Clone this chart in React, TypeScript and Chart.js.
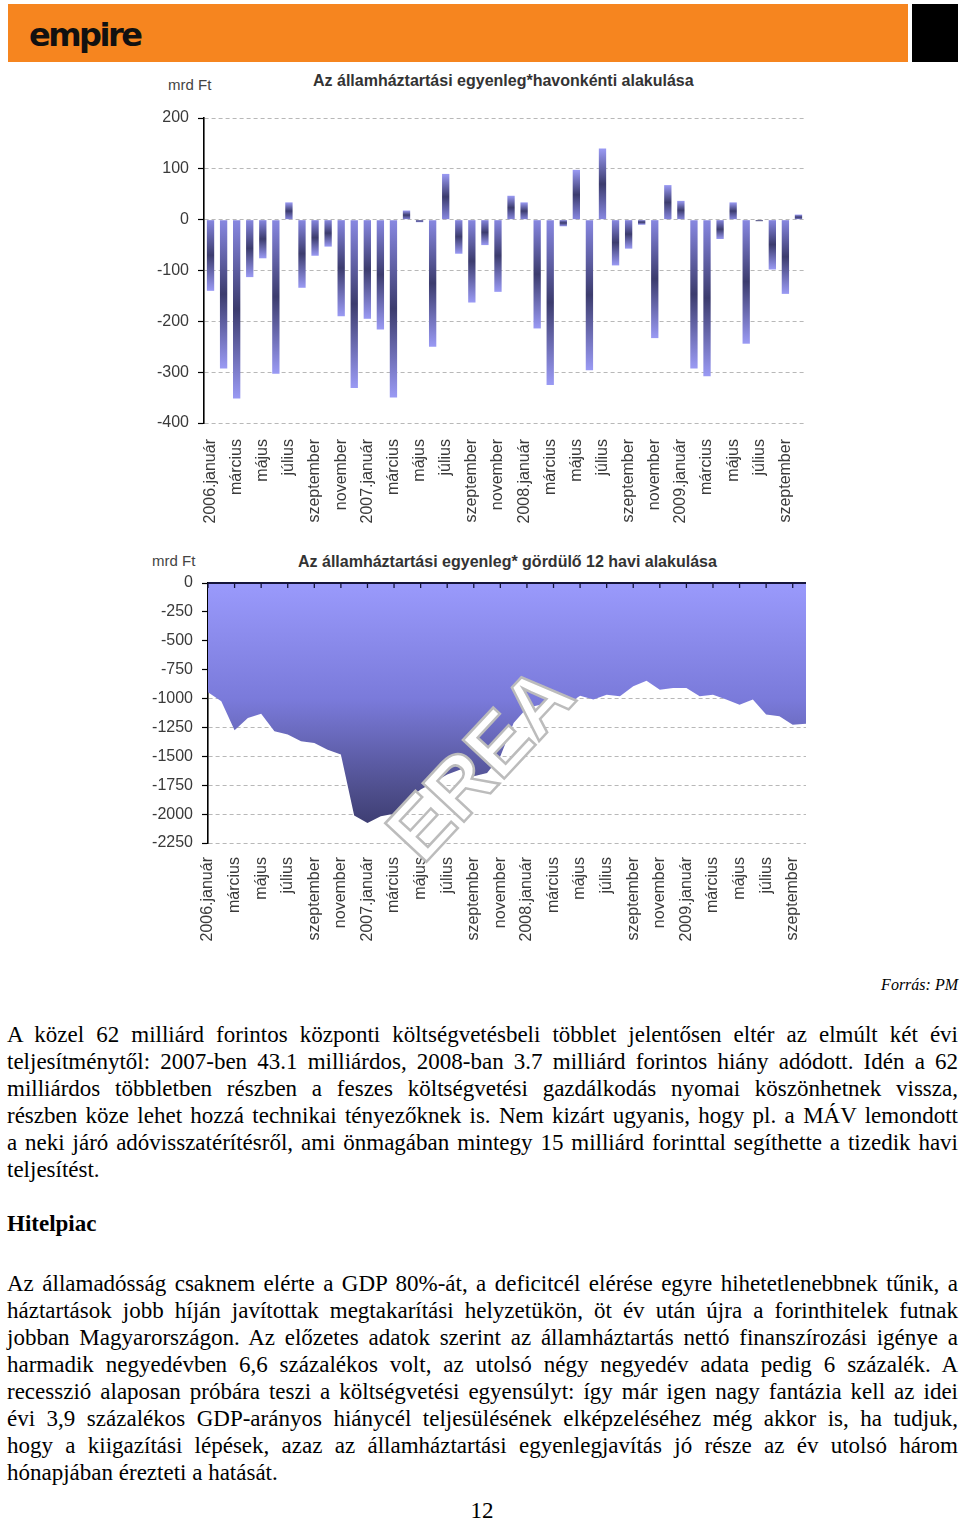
import React, { useEffect, useRef } from 'react';
import { Chart, registerables } from 'chart.js';

Chart.register(...registerables);

const monthNames = ['január', 'február', 'március', 'április', 'május', 'június', 'július', 'augusztus', 'szeptember', 'október', 'november', 'december'];
const years = [2006, 2007, 2008, 2009];
const monthCount = 46;
const categories: string[] = Array.from({ length: monthCount }, (_, i) => {
  const m = i % 12;
  const y = years[Math.floor(i / 12)];
  return m === 0 ? `${y}.${monthNames[m]}` : monthNames[m];
});

const monthlyBalance = [
  -140, -293, -352, -113, -76, -303, 34, -134, -71, -53, -190, -331,
  -195, -216, -350, 18, -5, -250, 90, -67, -163, -50, -142, 47,
  34, -214, -325, -13, 98, -296, 140, -90, -57, -10, -233, 68,
  37, -293, -308, -38, 34, -244, -3, -98, -146, 10,
];

const rollingBalance = [
  -946, -1024, -1275, -1168, -1131, -1283, -1312, -1370, -1384, -1442, -1485, -2013,
  -2077, -2019, -1996, -1875, -1788, -1725, -1658, -1615, -1673, -1644, -1500, -1211,
  -1081, -1053, -1038, -1053, -975, -1009, -966, -980, -894, -845, -923, -908,
  -908, -980, -966, -1009, -1053, -1009, -1139, -1154, -1226, -1218,
];

const barAxis = { min: -400, max: 200, step: 100 };
const areaAxis = { min: -2250, max: 0, step: 250 };

const chartFont = 'Arial, "Liberation Sans", sans-serif';
const serif = '"Liberation Serif", "Times New Roman", serif';

const para1 = [
  'A közel 62 milliárd forintos központi költségvetésbeli többlet jelentősen eltér az elmúlt két évi',
  'teljesítménytől: 2007-ben 43.1 milliárdos, 2008-ban 3.7 milliárd forintos hiány adódott. Idén a 62',
  'milliárdos többletben részben a feszes költségvetési gazdálkodás nyomai köszönhetnek vissza,',
  'részben köze lehet hozzá technikai tényezőknek is. Nem kizárt ugyanis, hogy pl. a MÁV lemondott',
  'a neki járó adóvisszatérítésről, ami önmagában mintegy 15 milliárd forinttal segíthette a tizedik havi',
  'teljesítést.',
];
const para2 = [
  'Az államadósság csaknem elérte a GDP 80%-át, a deficitcél elérése egyre hihetetlenebbnek tűnik, a',
  'háztartások jobb híján javítottak megtakarítási helyzetükön, öt év után újra a forinthitelek futnak',
  'jobban Magyarországon. Az előzetes adatok szerint az államháztartás nettó finanszírozási igénye a',
  'harmadik negyedévben 6,6 százalékos volt, az utolsó négy negyedév adata pedig 6 százalék. A',
  'recesszió alaposan próbára teszi a költségvetési egyensúlyt: így már igen nagy fantázia kell az idei',
  'évi 3,9 százalékos GDP-arányos hiánycél teljesülésének elképzeléséhez még akkor is, ha tudjuk,',
  'hogy a kiigazítási lépések, azaz az államháztartási egyenlegjavítás jó része az év utolsó három',
  'hónapjában érezteti a hatását.',
];

const xTickOpts = (padding: number) => ({
  autoSkip: false,
  maxRotation: 90,
  minRotation: 90,
  padding,
  color: '#3a3a3a',
  font: { family: chartFont, size: 16 },
  callback: (_v: any, i: number) => (i % 2 === 0 ? categories[i] : ''),
});

const xAxisBase = (padding: number) => ({
  offset: true,
  grid: { display: false, drawTicks: false },
  border: { display: false },
  ticks: xTickOpts(padding),
  afterFit: (s: any) => {
    s.height = 117;
    s.paddingLeft = 0;
    s.paddingRight = 0;
  },
});

const yAxisBase = (cfg: { min: number; max: number; step: number }, width: number) => ({
  min: cfg.min,
  max: cfg.max,
  ticks: {
    stepSize: cfg.step,
    padding: 9,
    color: '#3a3a3a',
    font: { family: chartFont, size: 16 },
    callback: (v: any) => String(v),
  },
  grid: { color: '#b8b8b8', lineWidth: 1, tickColor: '#000', tickLength: 6, tickBorderDash: [], tickWidth: 1.2 },
  border: { display: true, color: '#000', width: 1.6, dash: [4, 3] },
  afterFit: (s: any) => {
    s.width = width;
    s.paddingTop = 0;
    s.paddingBottom = 0;
  },
});

const topAxisPlugin = {
  id: 'topAxis',
  afterDatasetsDraw(chart: any) {
    const { ctx, chartArea: ca, scales } = chart;
    ctx.save();
    ctx.strokeStyle = '#15153c';
    ctx.lineWidth = 1.8;
    ctx.beginPath();
    ctx.moveTo(ca.left, ca.top);
    ctx.lineTo(ca.right, ca.top);
    ctx.stroke();
    ctx.lineWidth = 1.3;
    for (let i = 0; i < categories.length; i += 2) {
      const x = scales.x.getPixelForValue(i);
      ctx.beginPath();
      ctx.moveTo(x, ca.top);
      ctx.lineTo(x, ca.top + 5);
      ctx.stroke();
    }
    ctx.restore();
  },
};

const watermarkPlugin = {
  id: 'watermark',
  afterDraw(chart: any) {
    const ctx = chart.ctx;
    ctx.save();
    ctx.translate(344, 197);
    ctx.rotate((-47 * Math.PI) / 180);
    ctx.font = `bold 82px ${chartFont}`;
    ctx.textAlign = 'center';
    ctx.textBaseline = 'middle';
    ctx.fillStyle = '#ffffff';
    ctx.fillText('EREA', 0, 0);
    ctx.lineWidth = 2.5;
    ctx.strokeStyle = '#bcbcbc';
    ctx.lineJoin = 'miter';
    ctx.strokeText('EREA', 0, 0);
    ctx.restore();
  },
};

function BarChart() {
  const ref = useRef<HTMLCanvasElement | null>(null);
  useEffect(() => {
    if (!ref.current) return;
    const chart = new Chart(ref.current, {
      type: 'bar',
      data: {
        labels: categories,
        datasets: [
          {
            data: monthlyBalance,
            borderWidth: 0,
            categoryPercentage: 1,
            barPercentage: 0.56,
            backgroundColor: (c: any) => {
              const ch = c.chart;
              if (!ch.chartArea || c.type !== 'data') return '#7777cc';
              const v = c.parsed ? c.parsed.y : monthlyBalance[c.dataIndex];
              const y0 = ch.scales.y.getPixelForValue(0);
              const y1 = ch.scales.y.getPixelForValue(v);
              if (Math.abs(y1 - y0) < 2) return '#4a4a80';
              const g = ch.ctx.createLinearGradient(0, y0, 0, y1);
              g.addColorStop(0, 'rgb(136,136,226)');
              g.addColorStop(0.5, 'rgb(60,60,110)');
              g.addColorStop(1, 'rgb(154,154,244)');
              return g;
            },
          },
        ],
      },
      options: {
        animation: false,
        responsive: false,
        maintainAspectRatio: false,
        layout: { padding: { left: 0, right: 15, top: 8, bottom: 0 } },
        plugins: { legend: { display: false }, tooltip: { enabled: false } },
        scales: {
          x: xAxisBase(16),
          y: yAxisBase(barAxis, 64),
        },
      } as any,
    });
    return () => chart.destroy();
  }, []);
  return <canvas ref={ref} width={680} height={430} style={{ position: 'absolute', left: 140, top: 110, width: 680, height: 430 }} />;
}

function AreaChart() {
  const ref = useRef<HTMLCanvasElement | null>(null);
  useEffect(() => {
    if (!ref.current) return;
    const xAxis: any = xAxisBase(14);
    xAxis.offset = false;
    const chart = new Chart(ref.current, {
      type: 'line',
      data: {
        labels: categories,
        datasets: [
          {
            data: rollingBalance,
            fill: 'origin',
            borderWidth: 0,
            borderColor: 'rgba(0,0,0,0)',
            pointRadius: 0,
            tension: 0,
            backgroundColor: (c: any) => {
              const ch = c.chart;
              const ca = ch.chartArea;
              if (!ca) return '#8080dd';
              const g = ch.ctx.createLinearGradient(0, ca.top, 0, ca.bottom);
              g.addColorStop(0, 'rgb(154,154,252)');
              g.addColorStop(0.45, 'rgb(122,122,218)');
              g.addColorStop(0.8, 'rgb(78,78,140)');
              g.addColorStop(1, 'rgb(52,52,100)');
              return g;
            },
          },
        ],
      },
      options: {
        animation: false,
        responsive: false,
        maintainAspectRatio: false,
        layout: { padding: { left: 0, right: 14, top: 13, bottom: 0 } },
        plugins: { legend: { display: false }, tooltip: { enabled: false } },
        scales: {
          x: xAxis,
          y: yAxisBase(areaAxis, 68),
        },
      } as any,
      plugins: [topAxisPlugin, watermarkPlugin],
    });
    return () => chart.destroy();
  }, []);
  return <canvas ref={ref} width={680} height={390} style={{ position: 'absolute', left: 140, top: 570, width: 680, height: 390 }} />;
}

const abs = (s: React.CSSProperties): React.CSSProperties => ({ position: 'absolute', margin: 0, ...s });

function Lines({ lines, top }: { lines: string[]; top: number }) {
  return (
    <>
      {lines.map((t, i) => (
        <div
          key={i}
          style={abs({
            left: 7,
            width: 951,
            top: top + i * 27,
            height: 27,
            lineHeight: '27px',
            fontFamily: serif,
            fontSize: 23,
            color: '#000',
            textAlign: i === lines.length - 1 ? 'left' : 'justify',
            textAlignLast: i === lines.length - 1 ? 'left' : 'justify',
          } as any)}
        >
          {t}
        </div>
      ))}
    </>
  );
}

export default function App() {
  return (
    <div style={{ position: 'absolute', left: 0, top: 0, width: 960, height: 1521, background: '#fff', overflow: 'hidden' }}>
      <div style={abs({ left: 8, top: 4, width: 900, height: 58, background: '#f6851f' })} />
      <div style={abs({ left: 912, top: 4, width: 46, height: 58, background: '#000' })} />
      <div style={abs({ left: 29, top: 15, fontFamily: '"DejaVu Sans", sans-serif', fontWeight: 'bold', fontSize: 32, letterSpacing: -2.5, color: '#111', lineHeight: '40px' })}>empire</div>

      <div style={abs({ left: 168, top: 77, fontFamily: chartFont, fontSize: 15, color: '#444', lineHeight: '16px' })}>mrd Ft</div>
      <div style={abs({ left: 313, top: 72, fontFamily: chartFont, fontSize: 16, fontWeight: 'bold', color: '#333', lineHeight: '17px' })}>Az államháztartási egyenleg*havonkénti alakulása</div>
      <BarChart />

      <div style={abs({ left: 152, top: 553, fontFamily: chartFont, fontSize: 15, color: '#444', lineHeight: '16px' })}>mrd Ft</div>
      <div style={abs({ left: 298, top: 553, fontFamily: chartFont, fontSize: 16, fontWeight: 'bold', color: '#333', lineHeight: '17px' })}>Az államháztartási egyenleg* gördülő 12 havi alakulása</div>
      <AreaChart />

      <div style={abs({ right: 2, top: 977, fontFamily: serif, fontStyle: 'italic', fontSize: 16, lineHeight: '16px', color: '#000' })}>Forrás: PM</div>

      <Lines lines={para1} top={1021} />
      <div style={abs({ left: 7, top: 1210, fontFamily: serif, fontWeight: 'bold', fontSize: 23, lineHeight: '27px' })}>Hitelpiac</div>
      <Lines lines={para2} top={1270} />
      <div style={abs({ left: 462, width: 40, top: 1497, textAlign: 'center', fontFamily: serif, fontSize: 23, lineHeight: '27px' })}>12</div>
    </div>
  );
}
